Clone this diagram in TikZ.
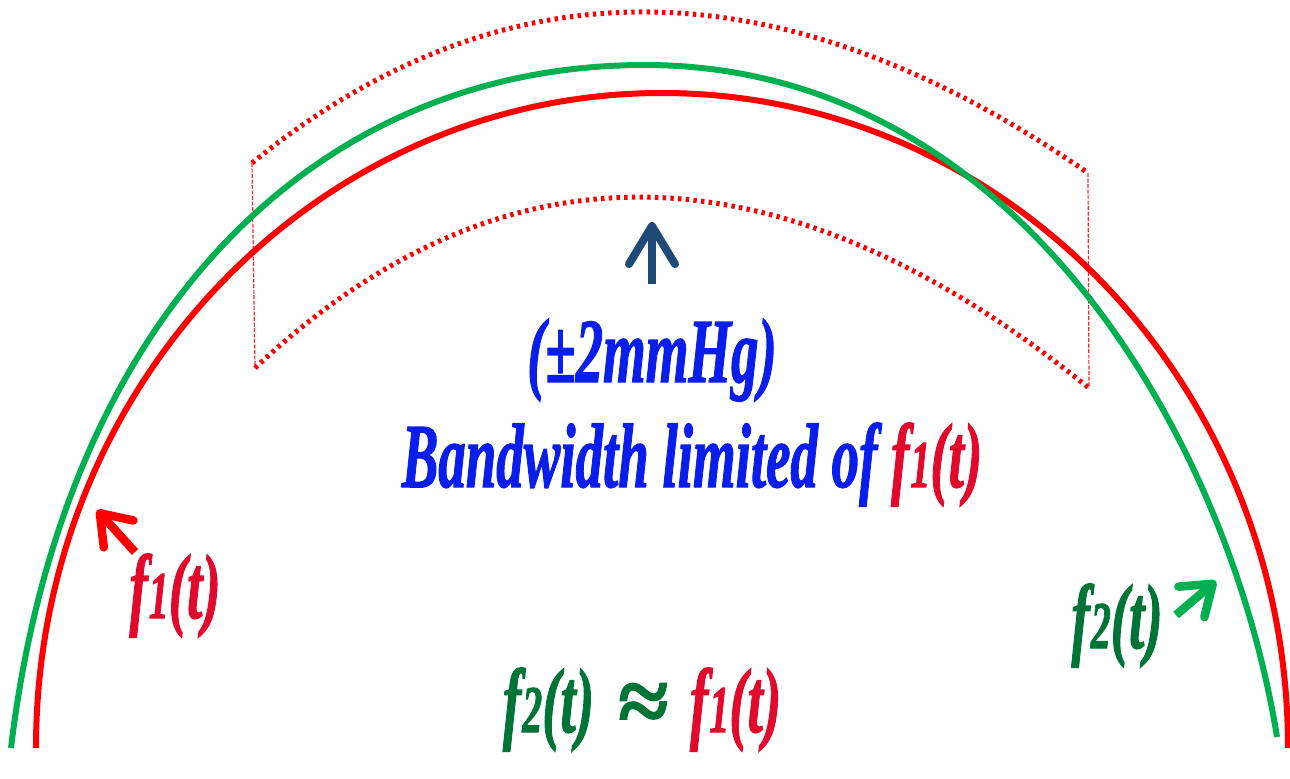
\documentclass[tikz,border=0pt]{standalone}
\usepackage{fontspec}
\setmainfont{Liberation Serif}
\newfontfamily\heavyit{Liberation Serif Bold Italic}[FakeBold=1.6]
\usepackage{graphicx}
\usepackage{tikz}
\usetikzlibrary{arrows.meta,calc}
\definecolor{curvered}{RGB}{255,0,0}
\definecolor{curvegreen}{RGB}{0,176,80}
\definecolor{txtblue}{RGB}{10,30,235}
\definecolor{txtred}{RGB}{225,10,45}
\definecolor{txtgreen}{RGB}{0,115,55}
\definecolor{ptrblue}{RGB}{31,74,120}
\newcommand{\narrow}[1]{\scalebox{0.6}[1]{#1}}
\newcommand{\fsig}[1]{f\kern0.02em{\fontsize{19}{20}\selectfont #1}}
\tikzset{
redcurve/.style={draw=curvered,line width=0.06cm},
greencurve/.style={draw=curvegreen,line width=0.06cm},
bandarc/.style={draw=curvered,line width=0.05cm,dash pattern=on 0.034cm off 0.043cm},
bandside/.style={draw=curvered!85,line width=0.012cm,dash pattern=on 0.04cm off 0.015cm},
labeltext/.style={font=\fontsize{26}{28}\selectfont\heavyit,inner sep=0pt,anchor=base},
ptrarr/.style={line width=0.085cm,-{Straight Barb[length=2.8mm,width=4mm,round]}},
bandarr/.style={draw=ptrblue,line width=0.08cm,-{Straight Barb[length=3.8mm,width=4.6mm,round]}}
}
\begin{document}
\begin{tikzpicture}[
x=0.01cm,
y=-0.01cm
]
\useasboundingbox (0,0) rectangle (1290,778);
% tolerance band
\coordinate (bandTL) at (252,163);
\coordinate (bandTR) at (1088,173);
\coordinate (bandBL) at (255,368);
\coordinate (bandBR) at (1089,388);
\draw[bandarc] (bandTL) .. controls (504,-42) and (783,-38) .. (bandTR);
\draw[bandarc] (bandBL) .. controls (504,134) and (782,140) .. (bandBR);
\draw[bandside] (bandTL) -- (bandBL);
\draw[bandside] (bandTR) -- (bandBR);
% the two signals
\draw[redcurve] (36,748) arc[start angle=180,end angle=360,x radius=626,y radius=655];
\draw[greencurve] (11,748) .. controls (61,328) and (305,65) .. (645,65)
  .. controls (1020,65) and (1230,445) .. (1277,737);
% labels
\node[labeltext,txtblue] (bandlabel) at (652,382) {\narrow{(±2mmHg)}};
\node[labeltext,txtblue] (bandtitle) at (692,487) {\narrow{Bandwidth limited of \textcolor{txtred}{\fsig{1}(t)}}};
\node[labeltext,txtred] (redlabel) at (175,618) {\narrow{\fsig{1}(t)}};
\node[labeltext,txtgreen] (greenlabel) at (1117,648) {\narrow{\fsig{2}(t)}};
\node[labeltext] (approxlabel) at (642,732) {\textcolor{txtgreen}{\narrow{\fsig{2}(t)} ≈} \textcolor{txtred}{\narrow{\fsig{1}(t)}}};
% pointers
\coordinate (bandtail) at (652,284);
\coordinate (bandtip) at (652,222);
\coordinate (redtail) at (135,552);
\coordinate (redtip) at (97,510);
\coordinate (greentail) at (1176,615);
\coordinate (greentip) at (1216,581);
\draw[bandarr] (bandtail) -- (bandtip);
\draw[ptrarr,draw=curvered] (redtail) -- (redtip);
\draw[ptrarr,draw=curvegreen] (greentail) -- (greentip);
\end{tikzpicture}
\end{document}
